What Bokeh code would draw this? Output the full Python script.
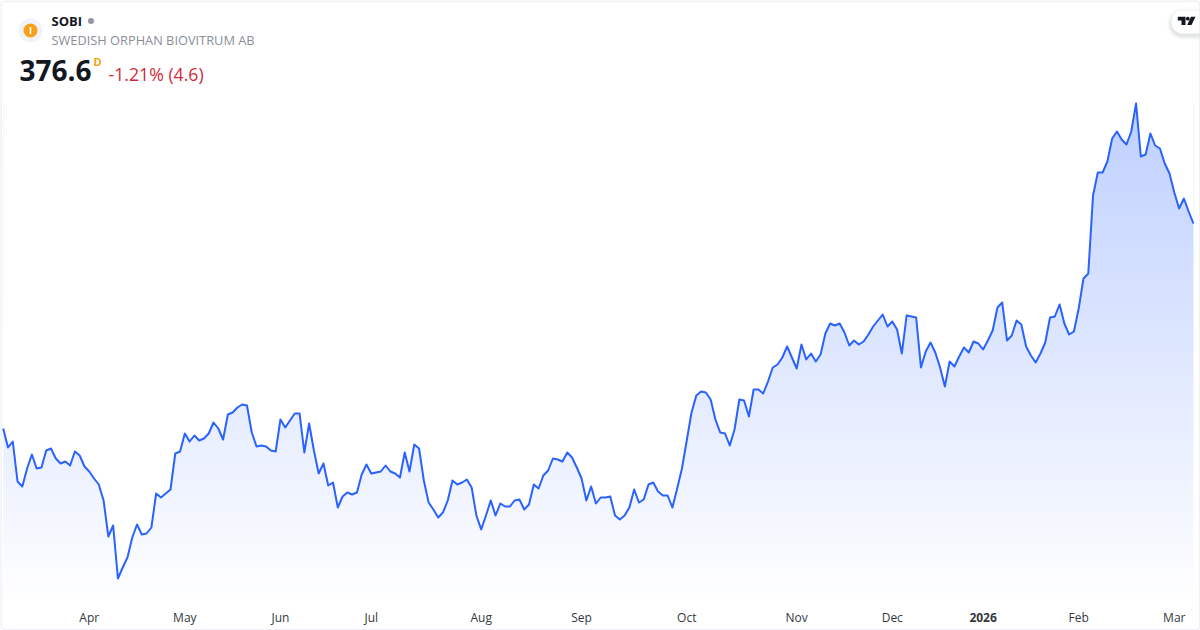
import math
from bokeh.plotting import figure
from bokeh.embed import file_html
from bokeh.resources import INLINE
from bokeh.models import FixedTicker, Label, LinearAxis

ticker_name = "SOBI"
company = "SWEDISH ORPHAN BIOVITRUM AB"
last_price = "376.6"
change_text = "-1.21% (4.6)"
interval = "D"

tick_index = [18, 38, 58, 77, 100, 121, 143, 166, 186, 205, 225, 245]
tick_labels = ["Apr", "May", "Jun", "Jul", "Aug", "Sep", "Oct", "Nov", "Dec", "2026", "Feb", "Mar"]

prices = [
 274.1,264.6,267.6,247.6,245.1,254.1,261.1,254.1,254.6,263.1,
 264.1,259.1,256.6,257.6,255.6,262.6,260.6,255.1,252.6,249.1,
 246.1,238.1,220.1,225.6,199.1,204.6,209.6,219.6,226.1,221.1,
 221.6,224.6,241.6,239.6,241.6,243.6,261.6,262.6,271.6,267.6,
 270.6,268.1,269.1,271.6,277.1,274.1,268.6,281.1,282.1,284.6,
 286.1,285.6,272.1,265.1,265.6,265.1,263.1,262.6,278.6,274.6,
 278.1,281.6,281.6,262.1,276.6,263.1,251.6,256.6,245.6,247.1,
 234.6,240.1,242.1,241.1,242.1,251.1,256.1,251.6,252.1,252.6,
 255.6,252.6,251.6,249.6,262.1,252.6,266.1,264.1,248.1,237.1,
 233.6,229.6,232.1,238.1,248.1,246.1,247.1,248.6,244.6,230.6,
 223.6,230.6,238.1,230.6,236.6,235.1,235.1,238.1,238.6,233.6,
 236.1,246.1,244.1,250.6,253.1,259.1,258.6,257.6,262.1,259.6,
 254.6,249.1,238.1,245.1,236.6,239.6,
 239.6,240.1,230.6,228.6,230.6,234.6,243.6,237.1,238.6,246.1,
 247.1,242.6,240.6,240.6,234.6,244.1,254.1,268.1,282.1,290.6,
 292.6,292.1,288.6,278.6,272.1,271.6,265.6,273.6,288.6,288.1,
 280.1,293.6,293.6,291.6,297.6,304.6,306.1,309.6,315.1,309.6,
 304.1,316.1,308.6,311.6,307.6,311.1,321.6,326.6,325.6,326.6,
 322.1,315.6,318.1,316.1,317.6,321.1,325.1,328.1,331.1,325.1,
 327.6,323.6,
 311.6,330.6,330.1,329.6,304.6,312.6,317.1,312.1,304.6,295.1,
 307.6,305.1,310.1,314.6,312.1,317.6,316.6,313.6,318.1,323.1,
 334.6,337.1,318.1,320.6,328.1,326.1,315.1,310.6,307.1,311.6,
 317.1,329.6,330.1,336.1,326.6,321.1,322.6,334.1,349.1,351.6,
 390.6,402.1,402.1,407.6,419.1,422.6,418.6,416.1,422.6,436.6,
 410.1,411.1,421.6,415.6,414.1,406.6,401.6,392.1,384.1,389.1,
 382.6,376.6,
]
index = list(range(len(prices)))

W, H, AXIS_Y = 1200, 630, 605
PX_PER_BAR = 4.78
X0 = 2.7
PRICE_AT_TOP, PX_PER_UNIT = 488.1, 2.0

def dx(px): return (px - X0) / PX_PER_BAR
def dy(py): return PRICE_AT_TOP - py / PX_PER_UNIT

p = figure(width=W, height=H, output_backend="svg", toolbar_location=None,
           x_axis_type=None, y_axis_type=None,
           x_range=(dx(0), dx(W)), y_range=(dy(H), dy(0)),
           min_border_left=0, min_border_right=0, min_border_top=0, min_border_bottom=0,
           background_fill_color="white", border_fill_color="white", outline_line_color=None)
p.styles = {"position": "absolute", "left": "0", "top": "0"}
p.grid.visible = False

# gradient strips under the line
peak, floor_ = max(prices), dy(AXIS_Y)
n = 160
tops, bots, cols = [], [], []
for k in range(n):
    b = floor_ + (peak - floor_) * k / n
    t = floor_ + (peak - floor_) * (k + 1) / n
    a = 0.30 * (k + 0.5) / n
    cols.append("#%02x%02x%02x" % (round(255 - 214 * a), round(255 - 157 * a), 255))
    tops.append(t); bots.append(b - 0.4)
p.quad(left=0, right=index[-1], bottom=bots, top=tops, fill_color=cols, line_color=None)
# white mask above the line
p.varea(x=index, y1=prices, y2=[dy(0)] * len(prices), fill_color="white")
p.line(index, prices, line_color="#2962ff", line_width=2, line_join="round")

# month axes sit at a fixed level inside the frame; 2026 is bold
def month_axis(ticks, labels, style, standoff):
    ax = LinearAxis(ticker=FixedTicker(ticks=ticks), fixed_location=dy(AXIS_Y))
    ax.major_label_overrides = dict(zip(ticks, labels))
    ax.axis_line_color = None
    ax.major_tick_line_color = None
    ax.minor_tick_line_color = None
    ax.major_tick_in = 0
    ax.major_tick_out = 0
    ax.minor_tick_in = 0
    ax.minor_tick_out = 0
    ax.major_label_standoff = standoff
    ax.major_label_text_font = "Open Sans"
    ax.major_label_text_font_size = "12px"
    ax.major_label_text_font_style = style
    ax.major_label_text_color = "#333842"
    p.add_layout(ax, "below")

plain = [(i, t) for i, t in zip(tick_index, tick_labels) if t != "2026"]
bold = [(i, t) for i, t in zip(tick_index, tick_labels) if t == "2026"]
month_axis([i for i, _ in plain], [t for _, t in plain], "normal", 3)
month_axis([i for i, _ in bold], [t for _, t in bold], "bold", 7)

def label(x, y, text, size, color, style="normal", font="Open Sans"):
    p.add_layout(Label(x=x, y=H - y, x_units="screen", y_units="screen", text=text,
                       text_font=font, text_font_size=size, text_color=color, text_font_style=style,
                       text_align="left", text_baseline="middle"))

# logo
p.scatter([dx(30)], [dy(30)], size=24, color="#f0f3fa", line_color=None)
p.scatter([dx(30)], [dy(30)], size=14, color="#f7a11a", line_color=None)
p.rect([dx(30)], [dy(30)], width=1.6 / PX_PER_BAR, height=7 / PX_PER_UNIT, color="white", line_color=None)
p.scatter([dx(90.5)], [dy(20.5)], size=6, color="#9598a1", line_color=None)

label(51, 20, ticker_name, "13px", "#131722", "bold")
label(51, 39, company, "12.8px", "#8a8e97")
label(19, 70, last_price, "28px", "#131722", "bold")
label(93, 61, interval, "11px", "#f59e0b", "bold")
label(108, 73, change_text, "17.7px", "#d12a3c")

# TradingView badge
def tab(l, t, b, r=11):
    xs, ys = [W + 5], [t]
    for a in range(0, 91, 15):
        xs.append(l + r - r * math.sin(math.radians(a))); ys.append(t + r - r * math.cos(math.radians(a)))
    for a in range(90, -1, -15):
        xs.append(l + r - r * math.sin(math.radians(a))); ys.append(b - r + r * math.cos(math.radians(a)))
    xs.append(W + 5); ys.append(b)
    return [dx(v) for v in xs], [dy(v) for v in ys]
for g, al in ((5, .012), (4, .02), (3, .025), (2, .03), (1, .04)):
    xs, ys = tab(1171 - g, 10 - g + 2, 33 + g + 2, 11 + g)
    p.patch(xs, ys, color="#2a2e39", alpha=al, line_color=None)
xs, ys = tab(1171, 10, 33)
p.patch(xs, ys, color="white", line_color=None)
glyphs = [
    [(1177.3, 16.3), (1185, 16.3), (1185, 24.5), (1181, 24.5), (1181, 20), (1177.3, 20)],
    [(1190.5, 16.3), (1195, 16.3), (1191, 24.5), (1186.7, 24.5)],
]
for g in glyphs:
    p.patch([dx(a) for a, _ in g], [dy(b) for _, b in g], color="#131722", line_color=None)
p.scatter([dx(1187.3)], [dy(18.2)], size=3.8, color="#131722", line_color=None)

# card border
bx = [W - 3.5, W - 0.5, W - 0.5, W - 3.5, 3.5, 0.5, 0.5, 3.5, W - 3.5]
by = [0.5, 3.5, H - 3.5, H - 0.5, H - 0.5, H - 3.5, 3.5, 0.5, 0.5]
p.line([dx(v) for v in bx], [dy(v) for v in by], line_color="#e0e3eb", line_width=1)

open("out.html", "w").write(file_html(p, INLINE))
